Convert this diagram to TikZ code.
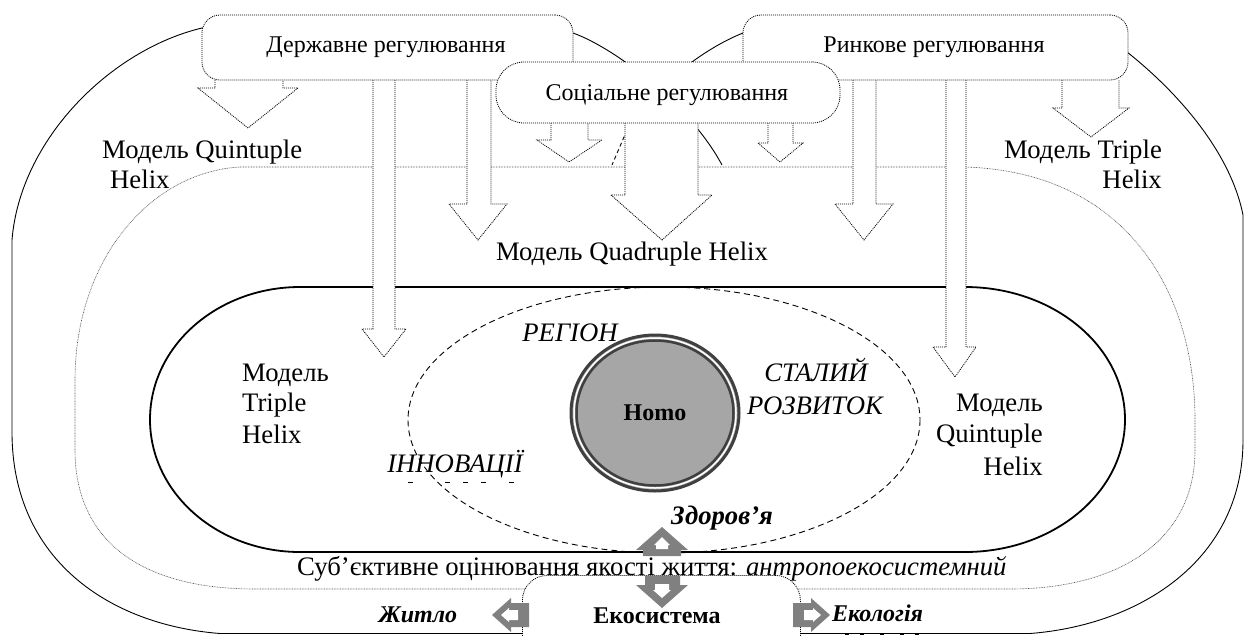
\documentclass[tikz,border=0pt]{standalone}
\usepackage{fontspec}
\setmainfont{Liberation Serif}
\definecolor{homofill}{HTML}{A6A6A6}
\definecolor{homoring}{HTML}{404040}
\definecolor{arrowgray}{HTML}{808080}
\begin{document}
\begin{tikzpicture}[x=1pt,y=-1pt,
  outerline/.style={line width=0.9pt},
  innerline/.style={line width=1.8pt},
  boxline/.style={draw=black, line width=0.8pt, dash pattern=on 1pt off 1pt},
  fineline/.style={line width=0.6pt, dash pattern=on 0.8pt off 0.8pt, black!70},
  ellline/.style={line width=0.9pt, dash pattern=on 6pt off 4pt},
  regbox/.style={boxline, fill=white, rounded corners=18pt, inner sep=0pt},
  socbox/.style={boxline, fill=white, rounded corners=28pt, inner sep=0pt},
  hollowarrow/.style={boxline, fill=white},
  grayarrow/.style={fill=arrowgray},
  lbl/.style={font=\fontsize{24}{30}\selectfont, inner sep=0pt},
  big/.style={font=\fontsize{26.7}{31}\selectfont, inner sep=0pt},
]
\useasboundingbox (0,0) rectangle (1245,635);
\clip (0,0) rectangle (1245,635);

% outer lobes
\draw[outerline] (12,432) -- (12,240) .. controls (20,140) and (110,50) .. (202,28)
  .. controls (330,18) and (480,20) .. (573,33) .. controls (615,48) and (690,105) .. (722,165);
\draw[outerline] (1243,440) -- (1243,215) .. controls (1230,150) and (1175,90) .. (1127,52)
  .. controls (1000,18) and (820,20) .. (743,33) .. controls (705,48) and (655,85) .. (627,130);
\draw[outerline, dash pattern=on 4pt off 3pt] (627,130) -- (612,165);
\draw[outerline] (12,432) .. controls (12,560) and (110,625) .. (220,633.5) -- (1030,633.5)
  .. controls (1140,625) and (1243,560) .. (1243,440);

% quintuple boundary
\draw[fineline] (240,167) -- (965,167) .. controls (1125,172) and (1195,290) .. (1195,420)
  -- (1195,450) .. controls (1195,540) and (1120,589) .. (1010,589) -- (255,589)
  .. controls (140,589) and (75,540) .. (75,450) -- (75,380)
  .. controls (75,260) and (150,172) .. (240,167);

% inner (triple helix) boundary
\draw[innerline] (300,287) -- (965,287) arc[start angle=-90, end angle=90, x radius=160, y radius=132.5]
  -- (300,552) arc[start angle=90, end angle=270, x radius=150, y radius=132.5] -- cycle;

% dashed ellipse
\draw[ellline] (664,420) ellipse [x radius=256, y radius=133];

% Homo
\filldraw[fill=homofill, draw=homoring, line width=3pt] (655,413) ellipse [x radius=84, y radius=78];
\draw[white, line width=1.5pt] (655,413) ellipse [x radius=81, y radius=75];
\draw[homoring, line width=2.5pt] (655,413) ellipse [x radius=78.5, y radius=72.5];
\node[lbl] (homo) at (655,413) {\bfseries Homo};

% hollow arrows
\filldraw[hollowarrow] (215,80) -- (215,88) -- (198,88) -- (248,128) -- (298,88) -- (283,88) -- (283,80);
\filldraw[hollowarrow] (373,80) -- (373,329) -- (362,329) -- (384,357) -- (406,329) -- (395,329) -- (395,80);
\filldraw[hollowarrow] (467,80) -- (467,204) -- (449,204) -- (478,240) -- (507,204) -- (491,204) -- (491,80);
\filldraw[hollowarrow] (551,123) -- (551,140) -- (537,140) -- (569,162) -- (602,140) -- (588,140) -- (588,123);
\filldraw[hollowarrow] (625,123) -- (625,195) -- (611,195) -- (662,240) -- (712,195) -- (698,195) -- (698,123);
\filldraw[hollowarrow] (768,123) -- (768,143) -- (758,143) -- (780,162) -- (803,143) -- (793,143) -- (793,123);
\filldraw[hollowarrow] (853,80) -- (853,204) -- (835,204) -- (864,240) -- (893,204) -- (876,204) -- (876,80);
\filldraw[hollowarrow] (946,80) -- (946,347) -- (933,347) -- (955,377) -- (976,347) -- (966,347) -- (966,80);
\filldraw[hollowarrow] (1062,80) -- (1062,108) -- (1053,108) -- (1091,137) -- (1129,108) -- (1119,108) -- (1119,80);

% regulation boxes
\node[regbox, minimum width=371pt, minimum height=65pt] (stateBox) at (387.5,47.5) {};
\node[regbox, minimum width=385pt, minimum height=65pt] (marketBox) at (935.5,47.5) {};
\node[socbox, minimum width=344pt, minimum height=61pt] (socialBox) at (668,92.5) {};
\node[lbl, anchor=base] (stateTxt) at (386,52) {Державне регулювання};
\node[lbl, anchor=base] (marketTxt) at (934,52) {Ринкове регулювання};
\node[lbl, anchor=base] (socialTxt) at (667,100) {Соціальне регулювання};

% model labels
\node[big, anchor=base west] (q5a) at (102,158) {Модель Quintuple};
\node[big, anchor=base west] (q5b) at (110,188) {Helix};
\node[big, anchor=base east] (t3a) at (1162,158) {Модель Triple};
\node[big, anchor=base east] (t3b) at (1162,188) {Helix};
\node[big, anchor=base] (q4) at (632,260) {Модель Quadruple Helix};
\node[big, anchor=base west] (it1) at (242,381) {Модель};
\node[big, anchor=base west] (it2) at (242,411) {Triple};
\node[big, anchor=base west] (it3) at (242,443) {Helix};
\node[big, anchor=base east] (iq1) at (1043,411) {Модель};
\node[big, anchor=base east] (iq2) at (1043,442) {Quintuple};
\node[big, anchor=base east] (iq3) at (1043,475) {Helix};

% italic concepts
\node[big, anchor=base] (region) at (570,341) {\itshape РЕГІОН};
\node[big, anchor=base] (stal) at (816,381) {\itshape СТАЛИЙ};
\node[big, anchor=base] (rozv) at (815,414) {\itshape РОЗВИТОК};
\node[big, anchor=base] (innov) at (455,472) {\itshape ІННОВАЦІЇ};
\foreach \a in {408,445,463,481,509} \draw[line width=0.8pt] (\a,482) -- ++(5,0);

\node[big, anchor=base] (health) at (722,524) {\bfseries\itshape Здоров’я};
\node[big, anchor=base west] (subj) at (297,575) {Суб’єктивне оцінювання якості життя: \textit{антропоекосистемний}};

% ecosystem box and gray arrows
\node[socbox, rounded corners=25pt, minimum width=278pt, minimum height=100pt, anchor=north west] (ecoBox) at (522,575) {};
\fill[grayarrow] (662,527) -- (688,550) -- (681,550) -- (681,556) -- (643,556) -- (643,550) -- (636,550) -- cycle;
\fill[white] (662,537) -- (670,545) -- (668,545) -- (668,549) -- (656,549) -- (656,545) -- (654,545) -- cycle;
\fill[grayarrow] (645,576) -- (680,576) -- (680,585) -- (688,585) -- (662,608) -- (636,585) -- (645,585) -- cycle;
\fill[white] (655,584) -- (669,584) -- (669,590) -- (671,590) -- (662,598) -- (653,590) -- (655,590) -- cycle;
\fill[grayarrow] (492,615) -- (511,598) -- (511,603) -- (529,603) -- (529,627) -- (511,627) -- (511,632) -- cycle;
\fill[white] (501,615) -- (509,608) -- (509,610) -- (518,610) -- (518,620) -- (509,620) -- (509,622) -- cycle;
\fill[grayarrow] (830,615) -- (811,598) -- (811,603) -- (793,603) -- (793,627) -- (811,627) -- (811,632) -- cycle;
\fill[white] (821,615) -- (813,608) -- (813,610) -- (804,610) -- (804,620) -- (813,620) -- (813,622) -- cycle;

\node[lbl, anchor=base] (housing) at (418,622) {\bfseries\itshape Житло};
\node[lbl, anchor=base] (eco) at (657,623) {\bfseries Екосистема};
\node[lbl, anchor=base west] (ecol) at (832,621) {\bfseries\itshape Екологія};
\foreach \a in {845,860,880,900,915} \draw[line width=1.2pt] (\a,634) -- ++(4,0);
\end{tikzpicture}
\end{document}
